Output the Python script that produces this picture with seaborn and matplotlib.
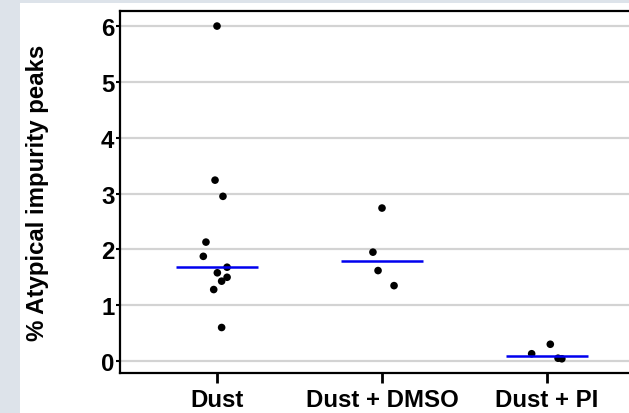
import numpy as np
import pandas as pd
import matplotlib
matplotlib.use("Agg")
import matplotlib.pyplot as plt
import seaborn as sns
from matplotlib.patches import Rectangle

categories = ["Dust", "Dust + DMSO", "Dust + PI"]
dust_vals = [6.0, 3.24, 2.95, 2.13, 1.875, 1.68, 1.58, 1.50, 1.43, 1.28, 0.60]
dust_jit = [0.0, -0.012, 0.036, -0.067, -0.083, 0.061, 0.002, 0.061, 0.028, -0.02, 0.028]
dmso_vals = [2.74, 1.95, 1.62, 1.35]
dmso_jit = [0.0, -0.055, -0.024, 0.073]
pi_vals = [0.13, 0.30, 0.05, 0.04]
pi_jit = [-0.093, 0.02, 0.067, 0.09]
y_ticks = [0, 1, 2, 3, 4, 5, 6]
y_label = "% Atypical impurity peaks"

groups = [(dust_vals, dust_jit), (dmso_vals, dmso_jit), (pi_vals, pi_jit)]
rows = []
for i, (vals, jit) in enumerate(groups):
    for v, j in zip(vals, jit):
        rows.append({"group": categories[i], "pos": i + j, "value": v})
df = pd.DataFrame(rows)

sns.set_theme(style="white")
plt.rcParams["font.family"] = ["Liberation Sans", "DejaVu Sans"]
plt.rcParams["font.weight"] = "bold"
plt.rcParams["text.color"] = "black"
plt.rcParams["axes.labelcolor"] = "black"
plt.rcParams["xtick.color"] = "black"
plt.rcParams["ytick.color"] = "black"

fig = plt.figure(figsize=(6.29, 4.14), dpi=100)
fig.patch.set_facecolor("#dde3ea")
fig.patches.append(Rectangle((20 / 629, 0), 1 - 20 / 629, 1 - 4 / 414,
                             transform=fig.transFigure, facecolor="white",
                             edgecolor="none", zorder=-10))
ax = fig.add_axes([120 / 629, 1 - 374 / 414, 1 - 120 / 629, (374 - 12) / 414])
ax.set_facecolor("white")

for y in y_ticks:
    ax.axhline(y, color="#d3d3d3", lw=1.6, zorder=0)

sns.scatterplot(data=df, x="pos", y="value", ax=ax, color="black", s=30,
                edgecolor="none", zorder=3, legend=False)

for i, (vals, _) in enumerate(groups):
    m = np.median(vals)
    ax.hlines(m, i - 0.25, i + 0.25, color="#0000ee", lw=1.8, zorder=4)

ax.set_xlim(-0.588, 2.497)
ax.set_ylim(-0.215, 6.27)
ax.set_xticks(range(len(categories)))
ax.set_xticklabels(categories, fontsize=17.3, fontweight="bold", color="black")
ax.set_yticks(y_ticks)
ax.set_yticklabels([str(t) for t in y_ticks], fontsize=17.3, fontweight="bold",
                   color="black")
ax.set_xlabel("")
ax.set_ylabel(y_label, fontsize=17.3, fontweight="bold", color="black")
ax.yaxis.set_label_coords((49 - 120) / 509, 0.5)

for s in ["left", "bottom", "top"]:
    ax.spines[s].set_visible(True)
    ax.spines[s].set_color("black")
    ax.spines[s].set_linewidth(1.6)
ax.spines["right"].set_visible(False)
ax.tick_params(axis="y", which="major", left=True, length=3, width=1.5,
               color="black", pad=1)
ax.tick_params(axis="x", which="major", bottom=True, length=7, width=2,
               color="black", pad=4)

fig.savefig("out.png", dpi=100, facecolor=fig.get_facecolor())
